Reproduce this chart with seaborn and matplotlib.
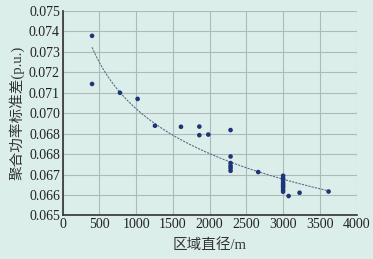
import numpy as np
import matplotlib
matplotlib.use("Agg")
import matplotlib.pyplot as plt
import seaborn as sns

# points: region diameter (m) vs aggregated power std (p.u.)
diam = [400, 400, 780, 1020, 1256, 1610, 1860, 1860, 1982, 2285,
        2285, 2285, 2285, 2285, 2285, 2661,
        3000, 3000, 3000, 3000, 3000, 3000, 3000, 3000, 3000,
        3075, 3224, 3619]
std = [0.07377, 0.07142, 0.07099, 0.07069, 0.06938, 0.06933, 0.06934, 0.06892, 0.06895, 0.06917,
       0.06788, 0.06756, 0.06742, 0.06731, 0.06718, 0.06712,
       0.06694, 0.06682, 0.06673, 0.06661, 0.06653, 0.06645, 0.06637, 0.06625, 0.06616,
       0.06595, 0.06611, 0.06617]

yticks = [0.065, 0.066, 0.067, 0.068, 0.069, 0.070, 0.071, 0.072, 0.073, 0.074, 0.075]
# the original figure prints 0.068 twice
ytick_labels = ["0.065", "0.066", "0.067", "0.068", "0.068", "0.070", "0.071", "0.072", "0.073", "0.074", "0.075"]
xticks = [0, 500, 1000, 1500, 2000, 2500, 3000, 3500, 4000]

bg = "#dceee9"
sns.set_style("whitegrid")
plt.rcParams["font.family"] = ["Liberation Serif", "Noto Sans CJK SC"]

fig = plt.figure(figsize=(3.73, 2.59), dpi=100, facecolor=bg)
ax = fig.add_axes([0.168, 0.168, 0.788, 0.791], facecolor=bg)

# power-law trend fitted in log space
b, lna = np.polyfit(np.log(diam), np.log(std), 1)
xs = np.linspace(400, 3619, 200)
ax.plot(xs, np.exp(lna) * xs ** b, ls=(0, (2, 1)), lw=0.8, color="#5a6f8a", zorder=2)

sns.scatterplot(x=diam, y=std, ax=ax, color="#1c3478", s=11, edgecolor="none", zorder=3)

ax.set_xlim(0, 4000)
ax.set_ylim(0.065, 0.075)
ax.set_xticks(xticks)
ax.set_xticklabels([str(v) for v in xticks])
ax.set_yticks(yticks)
ax.set_yticklabels(ytick_labels)
ax.grid(True, color="#adbab7", lw=0.8)
ax.tick_params(length=0, labelsize=10, colors="#222222", pad=2)

for s in ["top", "right"]:
    ax.spines[s].set_visible(False)
for s in ["left", "bottom"]:
    ax.spines[s].set_color("#333333")
    ax.spines[s].set_linewidth(1.2)

ax.set_xlabel("区域直径/m", fontsize=10.5, color="#333333", labelpad=5)
ax.set_ylabel("聚合功率标准差(p.u.)", fontsize=10.5, color="#333333", labelpad=3)

fig.savefig("out.png", dpi=100, facecolor=bg)
